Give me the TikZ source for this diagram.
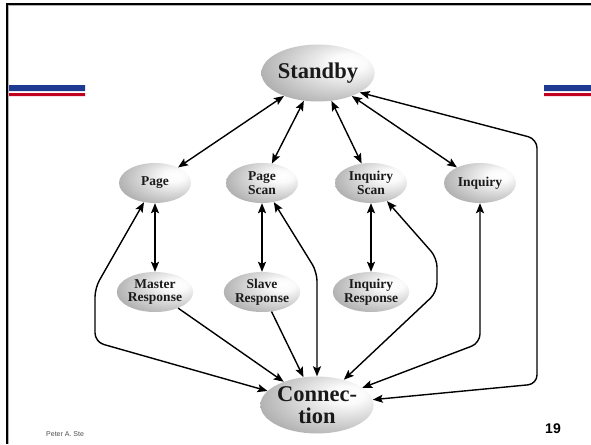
\documentclass[tikz,border=0pt]{standalone}
\usepackage{fontspec}
\setmainfont{Liberation Serif}
\newfontfamily\slidesans{Liberation Sans}
\usetikzlibrary{shapes,arrows.meta}
\usepackage{xcolor}
\definecolor{barblue}{HTML}{1F3A93}
\definecolor{barred}{HTML}{C0001F}
\definecolor{inkgray}{HTML}{1A1A1A}
\pgfdeclareradialshading{glossy}{\pgfpoint{15bp}{10bp}}{color(0bp)=(white); color(8bp)=(white!96!gray); color(35bp)=(gray!62); color(65bp)=(gray!85!black); color(80bp)=(gray!75!black)}

\begin{document}
\begin{tikzpicture}[x=1pt,y=-1pt,>={Stealth[length=10pt,width=8pt,inset=2pt]},
  state/.style={ellipse,shading=glossy,inner sep=0pt,align=center,text=inkgray,font=\bfseries\fontsize{13.5}{13.5}\selectfont,minimum width=72pt,minimum height=40pt},
  bigstate/.style={state,font=\bfseries\fontsize{22.5}{22}\selectfont,minimum width=106pt,minimum height=57pt},
  link/.style={line width=1.4pt,<->,rounded corners=9pt},
  oneway/.style={line width=1.4pt,->}]
\useasboundingbox(0,0)rectangle(591,444);
\fill[barblue](6,85)rectangle(85,91) (544,85)rectangle(591,91);
\fill[barred](6,93)rectangle(85,96) (544,93)rectangle(591,96);
\draw[gray!60,line width=1pt](8.5,444)--(8.5,6)--(591,6);
\draw[line width=2pt](7,444)--(7,4.5)--(591,4.5);
\node[bigstate](standby)at(318,73){Standby};
\node[state](page)at(155,183){Page};
\node[state](pagescan)at(262,183){Page\\Scan};
\node[state](inqscan)at(371,183){Inquiry\\Scan};
\node[state](inquiry)at(480,183){Inquiry};
\node[state](master)at(155,292){Master\\Response};
\node[state](slave)at(262,292){Slave\\Response};
\node[state](inqresp)at(371,292){Inquiry\\Response};
\node[bigstate](connection)at(317,405){Connec-\\tion};
\node[font=\slidesans\bfseries\fontsize{14}{14}\selectfont](pagenum)at(553,429){19};
\node[anchor=west,inner sep=0pt,text=gray!60!black,font=\slidesans\fontsize{7}{7}\selectfont](author)at(46,434){Peter A. Ste};
\coordinate(pgup)at(95,288);
\coordinate(pgdown)at(95,342);
\coordinate(psbend)at(317,272);
\coordinate(isup)at(437,258);
\coordinate(isdown)at(437,292);
\coordinate(iqbend)at(480,343);
\coordinate(sbup)at(537,139);
\coordinate(sbdown)at(537,384);
\draw[link](standby)--(page);
\draw[link](standby)--(pagescan);
\draw[link](standby)--(inqscan);
\draw[link](standby)--(inquiry);
\draw[link](page)--(master);
\draw[link](pagescan)--(slave);
\draw[link](inqscan)--(inqresp);
\draw[oneway](master)--(connection);
\draw[oneway](slave)--(connection);
\draw[link](page)--(pgup)--(pgdown)--(connection);
\draw[link](pagescan)--(psbend)--(connection);
\draw[link](inqscan)--(isup)--(isdown)--(connection);
\draw[link](inquiry)--(iqbend)--(connection);
\draw[link](standby.-25)--(sbup)--(sbdown)--(connection);
\end{tikzpicture}
\end{document}
